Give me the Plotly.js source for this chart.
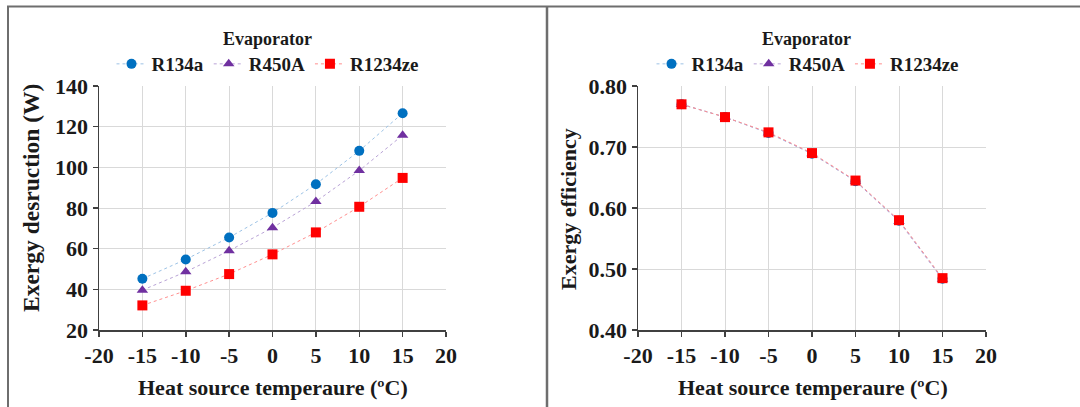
<!DOCTYPE html>
<html>
<head>
<meta charset="utf-8">
<script src="https://cdn.plot.ly/plotly-3.0.1.min.js"></script>
<style>html,body{margin:0;padding:0;background:#fff;}#chart{width:1080px;height:407px;}</style>
</head>
<body>
<div id="chart"></div>
<script>
// Data
const temps = [-15, -10, -5, 0, 5, 10, 15];
const seriesNames = ['R134a', 'R450A', 'R1234ze'];
const destR134a = [45.2, 54.7, 65.5, 77.6, 91.7, 108.1, 126.6];
const destR450A = [39.6, 48.6, 59.0, 70.3, 83.2, 98.4, 115.8];
const destR1234ze = [32.1, 39.3, 47.5, 57.2, 68.0, 80.6, 94.8];
const effR134a = [0.770, 0.749, 0.723, 0.689, 0.644, 0.579, 0.484];
const effR450A = [0.770, 0.749, 0.723, 0.689, 0.644, 0.578, 0.483];
const effR1234ze = [0.770, 0.749, 0.724, 0.690, 0.645, 0.580, 0.485];
const xTickVals = [-20, -15, -10, -5, 0, 5, 10, 15, 20];
const xTickText = ['-20', '-15', '-10', '-5', '0', '5', '10', '15', '20'];
const yTickValsL = [20, 40, 60, 80, 100, 120, 140];
const yTickValsR = [0.40, 0.50, 0.60, 0.70, 0.80];

const W = 1080, H = 407;
const px = v => v / W;
const py = v => 1 - v / H;
const FONT = 'Liberation Serif';
const TXT = '#1a1a1a';

const styles = [
  {marker: {symbol: 'circle', color: '#0070C0', size: 10}, line: {color: '#9DC3E6', width: 1, dash: 'dot'}},
  {marker: {symbol: 'triangle-up', color: '#7030A0', size: 10}, line: {color: '#B9A3D6', width: 1, dash: 'dot'}},
  {marker: {symbol: 'square', color: '#FF0000', size: 10}, line: {color: '#FF8F8F', width: 1, dash: 'dot'}}
];

const destData = [destR134a, destR450A, destR1234ze];
const effData = [effR134a, effR450A, effR1234ze];
const traces = [];
destData.forEach((ys, i) => traces.push({
  type: 'scatter', mode: 'lines+markers', x: temps, y: ys, name: seriesNames[i],
  xaxis: 'x', yaxis: 'y', legend: 'legend',
  marker: styles[i].marker, line: styles[i].line
}));
effData.forEach((ys, i) => traces.push({
  type: 'scatter', mode: 'lines+markers', x: temps, y: ys, name: seriesNames[i],
  xaxis: 'x2', yaxis: 'y2', legend: 'legend2',
  marker: styles[i].marker, line: styles[i].line
}));

const axisCommon = {
  showline: true, linecolor: '#404040', linewidth: 1.5,
  ticks: 'outside', ticklen: 5, tickcolor: '#404040', tickwidth: 1.5,
  showgrid: true, gridcolor: '#D9D9D9', gridwidth: 1,
  zeroline: false,
  tickfont: {family: FONT, size: 22, color: TXT, weight: 'bold'}
};

const legendCommon = {
  orientation: 'h', xanchor: 'center', yanchor: 'middle',
  font: {family: FONT, size: 19, color: TXT, weight: 'bold'},
  bgcolor: 'rgba(0,0,0,0)', itemwidth: 30,
  tracegroupgap: 0
};

function ann(text, x, y, size, angle) {
  return {text: text, x: px(x), y: py(y), xref: 'paper', yref: 'paper', xanchor: 'center', yanchor: 'middle',
    showarrow: false, textangle: angle || 0, font: {family: FONT, size: size, color: TXT, weight: 'bold'}};
}

const lineColor = '#6E6E6E';
const layout = {
  width: W, height: H,
  margin: {l: 0, r: 0, t: 0, b: 0},
  paper_bgcolor: '#ffffff', plot_bgcolor: '#ffffff',
  showlegend: true,
  xaxis: Object.assign({}, axisCommon, {domain: [px(99), px(446)], range: [-20, 20], tickvals: xTickVals, ticktext: xTickText, anchor: 'y'}),
  yaxis: Object.assign({}, axisCommon, {domain: [py(330), py(86)], range: [20, 140], tickvals: yTickValsL, anchor: 'x'}),
  xaxis2: Object.assign({}, axisCommon, {domain: [px(638), px(986)], range: [-20, 20], tickvals: xTickVals, ticktext: xTickText, anchor: 'y2'}),
  yaxis2: Object.assign({}, axisCommon, {domain: [py(330), py(86)], range: [0.40, 0.80], tickvals: yTickValsR, tickformat: '.2f', anchor: 'x2'}),
  legend: Object.assign({}, legendCommon, {x: px(268), y: py(64)}),
  legend2: Object.assign({}, legendCommon, {x: px(808), y: py(64)}),
  annotations: [
    ann('Evaporator', 267, 39, 18),
    ann('Evaporator', 806, 39, 18),
    ann('Heat source temperaure (ºC)', 273, 387, 22),
    ann('Heat source temperaure (ºC)', 813, 387, 22),
    ann('Exergy desruction (W)', 31, 198, 23.5, -90),
    ann('Exergy efficiency', 568, 209, 22, -90)
  ],
  shapes: [
    {type: 'line', xref: 'paper', yref: 'paper', x0: px(7), x1: 1, y0: py(6.5), y1: py(6.5), line: {color: lineColor, width: 2}},
    {type: 'line', xref: 'paper', yref: 'paper', x0: px(8), x1: px(8), y0: py(6), y1: 0, line: {color: lineColor, width: 2}},
    {type: 'line', xref: 'paper', yref: 'paper', x0: px(547), x1: px(547), y0: py(6), y1: 0, line: {color: lineColor, width: 2.5}}
  ]
};

Plotly.newPlot('chart', traces, layout, {staticPlot: true, displayModeBar: false});
</script>
</body>
</html>
